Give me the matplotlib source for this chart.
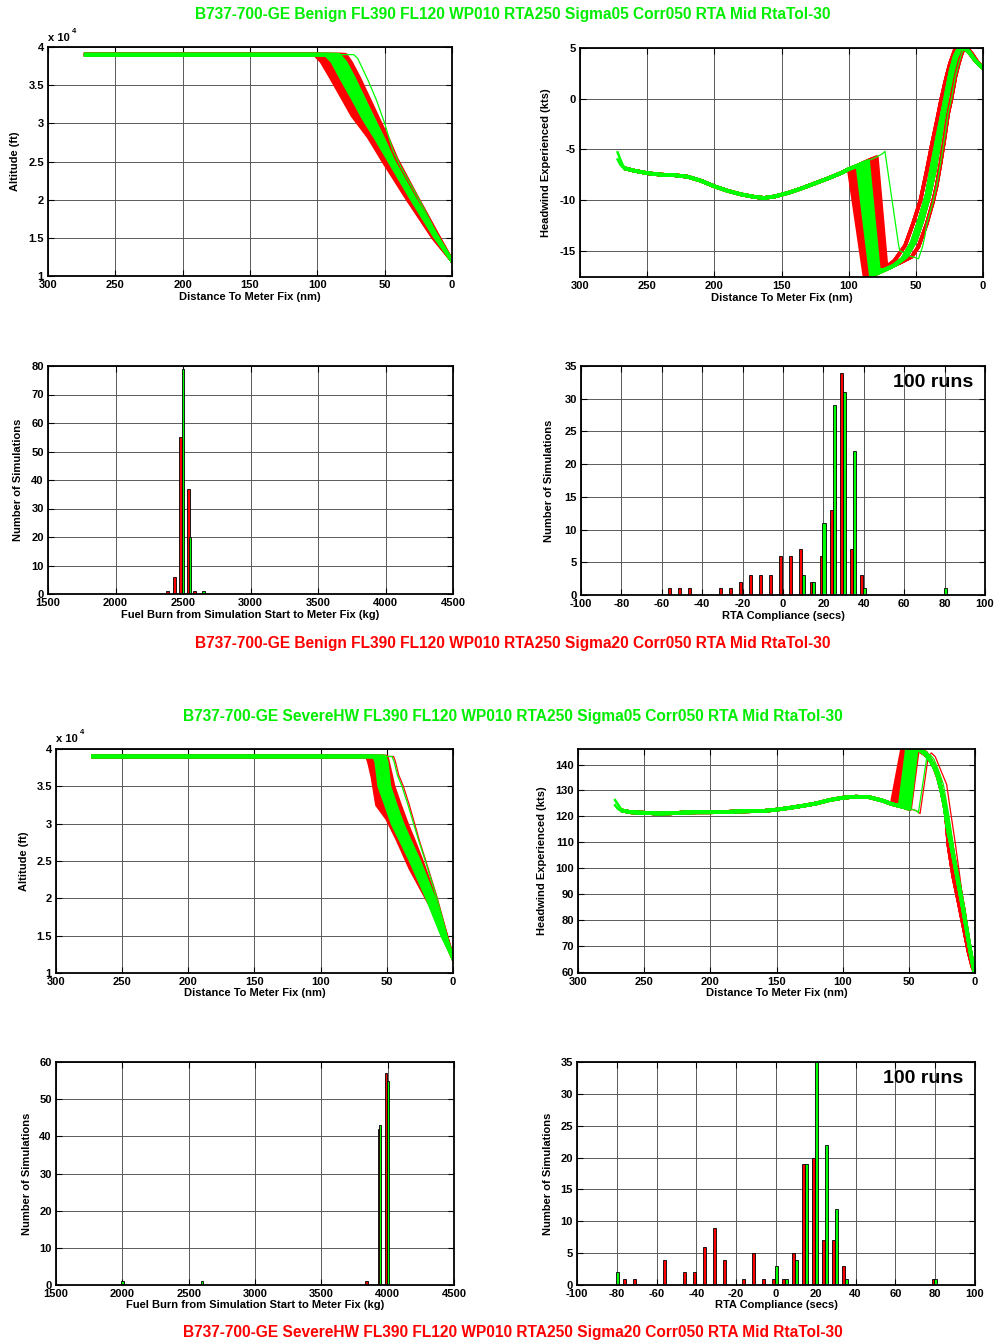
import numpy as np
import matplotlib.pyplot as plt
from matplotlib.ticker import FuncFormatter

plt.rcParams['font.family'] = ['Liberation Sans', 'DejaVu Sans']
plt.rcParams['font.weight'] = 'bold'
plt.rcParams['font.size'] = 8
plt.rcParams['axes.unicode_minus'] = False

RED = '#ff0000'
GRN = '#00ff00'
TXT_GRN = '#00ee00'

# ---------------- titles ----------------
titles = [
    ('B737-700-GE Benign FL390 FL120 WP010 RTA250 Sigma05 Corr050 RTA Mid RtaTol-30', TXT_GRN, 14),
    ('B737-700-GE Benign FL390 FL120 WP010 RTA250 Sigma20 Corr050 RTA Mid RtaTol-30', RED, 643),
    ('B737-700-GE SevereHW FL390 FL120 WP010 RTA250 Sigma05 Corr050 RTA Mid RtaTol-30', TXT_GRN, 717),
    ('B737-700-GE SevereHW FL390 FL120 WP010 RTA250 Sigma20 Corr050 RTA Mid RtaTol-30', RED, 1332),
]

# ---------------- altitude profiles (dist nm, alt ft) ----------------
cruise_start = 272
cruise_alt = 39000

alt_b_red = [
    [(102, 39000), (97, 38100), (90, 36000), (82, 33500), (74, 31000), (62, 28200), (51, 25000), (33, 20000), (14, 15000), (0, 12000)],
    [(100.5, 39000), (95.5, 38100), (88.5, 35900), (80.5, 33400), (72.5, 30900), (61, 28100), (50, 25000), (32.5, 20000), (14, 15000), (0, 12000)],
    [(99, 39000), (94, 38100), (87, 35800), (79, 33200), (71, 30700), (60, 28000), (49, 25000), (32, 20100), (14, 15100), (0, 12000)],
    [(97.5, 39000), (92.5, 38100), (85.5, 35800), (77.5, 33200), (69.5, 30700), (59, 28000), (48.5, 25000), (31.5, 20100), (13.5, 15100), (0, 12000)],
    [(96, 39000), (91, 38100), (84, 35800), (76, 33200), (68, 30700), (58, 28000), (48, 25000), (31, 20200), (13, 15200), (0, 12000)],
    [(92, 39000), (87, 38100), (80, 35800), (72, 33300), (64, 30700), (55, 28000), (46, 25100), (30, 20300), (13, 15300), (0, 12000)],
    [(88, 39000), (83, 38100), (77, 35900), (70, 33500), (62, 30900), (53, 28100), (44, 25000), (29, 20300), (13, 15400), (0, 12000)],
    [(84, 39000), (79, 38100), (73, 36000), (67, 33600), (60, 31000), (52, 28300), (43, 25000), (28, 20400), (12, 15400), (0, 12000)],
    [(82, 39000), (78, 38200), (72, 36500), (65, 34000), (58, 31500), (51, 29000), (43, 25800), (28, 20800), (12, 15600), (0, 12000)],
    [(80.5, 39000), (76.5, 38200), (70.5, 36300), (63, 33500), (55.5, 30700), (49, 28300), (42, 25500), (27, 20600), (11.5, 15600), (0, 12000)],
    [(79, 39000), (75, 38000), (69, 36000), (61, 33000), (53, 30000), (47, 27800), (41, 25300), (26.5, 20500), (11, 15500), (0, 12000)],
]
alt_b_grn = [
    [(94, 39000), (89, 38100), (82, 35800), (74, 33300), (66, 30700), (56.5, 28000), (46.5, 25000), (30.5, 20200), (13, 15200), (0, 12000)],
    [(91.5, 39000), (86.5, 38100), (79.5, 35800), (71.5, 33300), (63.5, 30800), (55, 28100), (45.5, 25000), (30, 20300), (13, 15300), (0, 12000)],
    [(89, 39000), (84, 38100), (78, 35900), (70, 33400), (62, 30800), (54, 28100), (45, 25100), (29, 20300), (13, 15300), (0, 12000)],
    [(86.5, 39000), (81.5, 38100), (75.5, 35900), (68.5, 33500), (61, 30900), (53, 28200), (44, 25100), (29, 20400), (12, 15400), (0, 12000)],
    [(84, 39000), (79, 38000), (73, 36000), (66.5, 33600), (59.5, 31000), (51.5, 28200), (43.5, 25100), (28.5, 20400), (12, 15400), (0, 12000)],
]
alt_b_grn_out = [(73, 39000), (70, 38500), (66, 37000), (62, 35500), (56, 33000), (50, 30000), (44, 26500), (38, 24300), (25, 20200), (12, 15800), (0, 12000)]

alt_s_red = [
    [(65, 39000), (63.5, 38200), (61, 36300), (57.5, 32500), (50, 30700), (42.4, 28000), (32.3, 24000), (17.2, 19100), (8, 15200), (0, 12000)],
    [(63.5, 39000), (62, 38200), (59.5, 36300), (56.3, 32800), (49.3, 30700), (41.7, 28000), (31.9, 24000), (17, 19100), (8, 15200), (0, 12000)],
    [(62, 39000), (60.5, 38200), (58, 36300), (55, 33000), (48.5, 30700), (41, 28000), (31.5, 24000), (16.8, 19100), (8, 15200), (0, 12000)],
    [(60.5, 39000), (59, 38200), (56.5, 36300), (53.5, 33100), (47.5, 30650), (40.2, 27900), (31, 24000), (16.6, 19150), (7.9, 15200), (0, 12000)],
    [(59, 39000), (57.5, 38200), (55, 36300), (52, 33200), (46.5, 30600), (39.5, 27800), (30.5, 24000), (16.4, 19200), (7.8, 15200), (0, 12000)],
    [(56, 39000), (54.5, 38200), (52, 36300), (49, 33300), (44.5, 30600), (38, 27800), (29.5, 24000), (16, 19300), (7.5, 15300), (0, 12000)],
    [(53, 39000), (51.5, 38200), (49, 36200), (46, 33300), (41, 30500), (35, 27500), (27, 23800), (15, 19400), (7, 15300), (0, 12000)],
    [(51.5, 39000), (50, 38100), (47.5, 36000), (45, 34500), (40.5, 32000), (36, 29800), (30, 27300), (24.5, 25000), (13.8, 20000), (5.2, 15000), (0, 12000)],
    [(50, 39000), (48.7, 38000), (46.5, 36300), (44.9, 35000), (40, 32500), (34.8, 30000), (29, 27500), (23.5, 25000), (13.4, 20000), (5, 15000), (0, 12000)],
]
alt_s_red_out = [(44.9, 39000), (43.5, 38300), (41, 36500), (37.5, 35000), (33, 32500), (29, 30000), (25, 27500), (20.5, 25000), (11.8, 20000), (4.2, 15000), (0, 12000)]
alt_s_grn = [
    [(59.5, 39000), (58, 38200), (55.8, 35000), (50.7, 32500), (45.8, 30000), (38.8, 27500), (32, 25000), (19.5, 20000), (8.2, 15000), (0, 12000)],
    [(57, 39000), (55.5, 38200), (53.5, 35000), (48.5, 32500), (43.5, 30000), (37, 27500), (30, 25000), (18, 20000), (7.5, 15000), (0, 12000)],
    [(54.5, 39000), (53, 38200), (51, 35000), (46.3, 32500), (41.3, 30000), (35.3, 27500), (28.3, 25000), (16.7, 20000), (7, 15000), (0, 12000)],
    [(52.5, 39000), (51, 38200), (49, 35000), (44.3, 32500), (39.2, 30000), (33, 27500), (26.5, 25000), (15, 20000), (6, 15000), (0, 12000)],
    [(51.5, 39000), (50, 38200), (48, 35000), (43.3, 32500), (38.2, 30000), (32, 27500), (25.5, 25000), (14.2, 20000), (5.6, 15000), (0, 12000)],
]
alt_s_grn_out = [(46.1, 39000), (44.5, 38300), (42, 36500), (38.6, 35000), (34, 32500), (29.8, 30000), (25.5, 27500), (20.9, 25000), (12.1, 20000), (4.5, 15000), (0, 12000)]

# ---------------- headwind, benign ----------------
hwb_start_a = [(272, -5.3), (270, -6.0), (268, -6.6), (266, -6.9)]
hwb_start_b = [(272, -6.0), (270, -6.5), (268, -6.8), (266, -6.9)]
hwb_cruise_d = [266, 260, 250, 240, 230, 220, 210, 200, 190, 180, 170, 163, 155, 145, 135, 125, 115, 105, 100, 95, 90, 85, 80, 75, 73]
hwb_cruise_v = [-6.9, -7.1, -7.35, -7.5, -7.55, -7.7, -8.1, -8.65, -9.1, -9.45, -9.7, -9.8, -9.65, -9.3, -8.85, -8.35, -7.85, -7.3, -6.95, -6.7, -6.4, -6.1, -5.8, -5.45, -5.2]
hwb_recovery = {
    'left': [(84, -17.5), (75, -16.9), (66, -16.0), (58, -14.5), (52, -12.3), (46.5, -10), (42, -7.2), (38, -4.5), (34, -2.0), (31, 0), (27.5, 2), (24.5, 3.5), (21, 4.8), (18, 5), (14, 5), (10, 4.5), (6, 3.8), (3, 3.4), (0, 3)],
    'mid': [(78, -17.2), (68, -16.6), (60, -15.8), (53, -14.2), (47, -11.8), (42, -9.5), (38, -6.6), (34, -3.8), (30, -1.2), (27, 0.8), (24, 2.8), (21, 4.2), (18, 5), (14, 5), (10, 4.5), (6, 3.8), (3, 3.4), (0, 3)],
    'mid2': [(74, -16.9), (65, -16.4), (57, -15.6), (50, -14.0), (45, -12.0), (40, -9.6), (36, -7.2), (33, -4.8), (29.5, -2), (26.5, 0.2), (23, 2.4), (20, 4), (17, 4.9), (14, 5), (10, 4.6), (6, 3.8), (3, 3.4), (0, 3)],
    'right': [(70, -16.6), (62, -16.2), (53, -15.6), (48, -14.6), (42, -12.4), (37.5, -10.3), (34.5, -8.6), (31.5, -6.3), (28.5, -3.8), (26, -1.5), (23.5, 0), (20.5, 2.2), (18, 3.5), (15.5, 4.6), (13.5, 5), (11, 4.9), (8, 4.4), (4, 3.6), (0, 3)],
}
# (top of descent, headwind there, bottom dist, bottom headwind, recovery branch)
hwb_red = [(100, -6.95, 88, -17.8, 'left'), (98.5, -6.85, 87, -17.8, 'left'), (97, -6.8, 86, -17.8, 'left'),
           (95.5, -6.72, 85, -17.7, 'left'), (94, -6.65, 84, -17.6, 'mid'), (91, -6.5, 82, -17.5, 'mid'),
           (88, -6.3, 80, -17.3, 'mid2'), (85, -6.1, 78, -17.0, 'mid2'), (83.5, -6.0, 76.5, -16.9, 'right'),
           (82, -5.95, 75, -16.7, 'right'), (80.5, -5.85, 73.5, -16.5, 'right'), (79, -5.75, 72, -16.3, 'right')]
hwb_grn = [(93.5, -6.62, 83.5, -17.5, 'mid'), (91.5, -6.52, 82, -17.4, 'mid'), (89.5, -6.38, 80.5, -17.2, 'mid'),
           (87.5, -6.27, 79, -17.1, 'mid2'), (85.5, -6.15, 77.5, -16.9, 'mid2')]
hwb_grn_out = [(63, -14.3), (62, -15.0), (55, -15.5), (48, -15.8), (45, -14.6), (43, -13.4)]

# ---------------- headwind, severe ----------------
hws_start_a = [(272, 126.3), (270, 124.8), (268, 123.2), (266, 122.2)]
hws_start_b = [(272, 124.3), (270, 123.0), (268, 122.3), (266, 122.2)]
hws_cruise_d = [266, 260, 250, 240, 230, 220, 210, 200, 190, 180, 170, 160, 150, 140, 130, 120, 110, 100, 90, 80, 70, 63, 60, 57, 54, 51, 48, 45, 43]
hws_cruise_v = [122.2, 121.6, 121.4, 121.1, 121.2, 121.5, 121.6, 121.6, 121.7, 121.9, 122.0, 122.1, 122.6, 123.3, 124.1, 125.0, 126.3, 127.2, 127.6, 127.4, 126.1, 124.8, 124.4, 124.0, 123.6, 123.2, 122.8, 122.3, 121.8]
hws_fall = {
    'left': [(44, 146), (38, 144), (34, 142), (30, 138.5), (27, 134), (24, 127), (22, 121), (20.1, 109), (16.5, 97), (12, 86), (8.5, 77), (5, 68), (2, 62), (0, 59.6)],
    'mid': [(43, 146), (37.5, 144), (33, 141), (29, 137), (26, 131.5), (23, 124), (20.5, 115), (18, 109), (14, 98), (10, 87), (6.5, 77), (3.5, 68), (1.3, 62), (0, 59.6)],
    'right': [(42, 146), (37, 144.5), (32, 140.5), (28, 135), (25, 129), (21, 119), (18, 110), (15.9, 104), (12, 94), (8.5, 84), (5.5, 74), (3, 66), (1, 61), (0, 59.6)],
}
# (top of descent, headwind there, peak dist, peak headwind, fall branch)
hws_red = [(63, 124.9, 55, 146.5, 'left'), (62, 124.7, 54.2, 146.5, 'left'), (61, 124.6, 53.5, 146.5, 'left'),
           (60, 124.4, 52.7, 146.5, 'left'), (59, 124.2, 52, 146.5, 'left'), (57, 124.0, 50, 146.5, 'mid'),
           (55, 123.7, 48, 146.5, 'mid'), (53, 123.4, 46.5, 146.5, 'mid'), (51, 123.0, 44.5, 146.5, 'right'),
           (50, 122.9, 43.8, 146.3, 'right'), (49, 122.7, 43, 146.2, 'right')]
hws_grn = [(57, 124.0, 51.5, 146, 'mid'), (55.5, 123.8, 50, 146, 'mid'), (54, 123.6, 48.5, 146, 'mid'),
           (52.5, 123.3, 47, 146, 'mid'), (51, 123.0, 45.5, 146, 'mid'), (49.5, 122.8, 44, 146, 'right')]
hws_grn_out = [(42.8, 121.3), (36.5, 142.6), (34, 143.9), (31, 142), (27, 137), (23.9, 132.3), (20, 121), (16.4, 109), (12.5, 95), (8.8, 80.8), (4.5, 68), (1.3, 60.2), (0, 59.6)]
hws_red_out = [(41.5, 121.1), (35.5, 142.5), (33, 144.5), (30, 143), (26, 138), (21.4, 132.3), (18.5, 122), (15, 110), (11.5, 97), (8, 83), (4.5, 70), (1.5, 61), (0, 59.6)]

# ---------------- histograms ----------------
fuel_b_red_x = [2387, 2437, 2481, 2540, 2585]
fuel_b_red_n = [1, 6, 55, 37, 1]
fuel_b_grn_x = [2500, 2552, 2650]
fuel_b_grn_n = [79, 20, 1]

fuel_s_red_x = [3840, 3932, 3987]
fuel_s_red_n = [1, 42, 57]
fuel_s_grn_x = [2002, 2603, 3945, 4000]
fuel_s_grn_n = [1, 1, 43, 55]

rta_b_red_x = [-55, -50, -45, -30, -25, -20, -15, -10, -5, 0, 5, 10, 15, 20, 25, 30, 35, 40]
rta_b_red_n = [1, 1, 1, 1, 1, 2, 3, 3, 3, 6, 6, 7, 2, 6, 13, 34, 7, 3]
rta_b_grn_x = [10, 15, 20, 25, 30, 35, 40, 80]
rta_b_grn_n = [3, 2, 11, 29, 31, 22, 1, 1]

rta_s_red_x = [-75, -70, -55, -45, -40, -35, -30, -25, -15, -10, -5, 0, 5, 10, 15, 20, 25, 30, 35, 80]
rta_s_red_n = [1, 1, 4, 2, 2, 6, 9, 4, 1, 5, 1, 1, 1, 5, 19, 20, 7, 7, 3, 1]
rta_s_grn_x = [-80, 0, 5, 10, 15, 20, 25, 30, 35, 80]
rta_s_grn_n = [2, 3, 1, 4, 19, 35, 22, 12, 1, 1]

# ---------------- figure ----------------
fig = plt.figure(figsize=(9.94, 13.43), dpi=100)
W, H = 994, 1343
BAND_LW = 2.6


def add_ax(l, t, r, b):
    return fig.add_axes([l / W, 1 - b / H, (r - l) / W, (b - t) / H])


def style(ax, xlim, ylim, xticks, yticks, xlabel, ylabel, ylab_x):
    ax.set_xlim(xlim)
    ax.set_ylim(ylim)
    ax.set_xticks(xticks)
    ax.set_yticks(yticks)
    ax.set_axisbelow(True)
    ax.grid(True, color='#5a5a5a', lw=0.7)
    ax.tick_params(direction='in', top=True, right=True, length=4, width=0.8,
                   labelsize=8, pad=3)
    for s in ax.spines.values():
        s.set_linewidth(1.3)
    ax.set_xlabel(xlabel, fontsize=8, fontweight='bold')
    ax.set_ylabel(ylabel, fontsize=8, fontweight='bold')
    ax.xaxis.set_label_coords(0.5, -0.068)
    ax.yaxis.set_label_coords(ylab_x, 0.5)


def plot_alt(ax, trajs, color, lw):
    for t in trajs:
        ax.plot([cruise_start] + [p[0] for p in t], [cruise_alt] + [p[1] for p in t],
                color=color, lw=lw, solid_joinstyle='round')


def hw_path(cd, cv, tod, vtod, mid_pts, tail):
    # cruise part up to top of descent, then the descent and the shared tail
    dd = [d for d in cd if d > tod]
    vv = [v for d, v in zip(cd, cv) if d > tod]
    last = mid_pts[-1][0]
    pts = [(tod, vtod)] + mid_pts + [p for p in tail if p[0] < last]
    return dd + [p[0] for p in pts], vv + [p[1] for p in pts]


def x10(ax, ybase):
    ax.text(0.0, ybase, 'x 10', transform=ax.transAxes, fontsize=8, fontweight='bold',
            ha='left', va='center')
    ax.text(0.059, ybase + 0.028, '4', transform=ax.transAxes, fontsize=5.5,
            fontweight='bold', ha='left', va='center')


alt_fmt = FuncFormatter(lambda v, p: f'{v / 1e4:g}')
dist_ticks = [300, 250, 200, 150, 100, 50, 0]
alt_ticks = [10000, 15000, 20000, 25000, 30000, 35000, 40000]

# panel 1: benign altitude
ax = add_ax(48, 47, 452, 276)
plot_alt(ax, alt_b_red, RED, BAND_LW)
plot_alt(ax, alt_b_grn, GRN, BAND_LW)
plot_alt(ax, [alt_b_grn_out], GRN, 0.9)
style(ax, (300, 0), (10000, 40000), dist_ticks, alt_ticks,
      'Distance To Meter Fix (nm)', 'Altitude (ft)', -0.069)
ax.yaxis.set_major_formatter(alt_fmt)
x10(ax, 1.038)

# panel 5: severe altitude
ax = add_ax(56, 749, 453, 973)
plot_alt(ax, alt_s_red, RED, BAND_LW)
plot_alt(ax, [alt_s_red_out], RED, 0.9)
plot_alt(ax, alt_s_grn, GRN, BAND_LW)
plot_alt(ax, [alt_s_grn_out], GRN, 0.9)
style(ax, (300, 0), (10000, 40000), dist_ticks, alt_ticks,
      'Distance To Meter Fix (nm)', 'Altitude (ft)', -0.068)
ax.yaxis.set_major_formatter(alt_fmt)
x10(ax, 1.045)

# panel 2: benign headwind
ax = add_ax(580, 48, 983, 277)
for tod, vt, bd, bv, br in hwb_red:
    x, y = hw_path(hwb_cruise_d, hwb_cruise_v, tod, vt, [(bd, bv)], hwb_recovery[br])
    ax.plot(x, y, color=RED, lw=BAND_LW, solid_joinstyle='round')
for tod, vt, bd, bv, br in hwb_grn:
    x, y = hw_path(hwb_cruise_d, hwb_cruise_v, tod, vt, [(bd, bv)], hwb_recovery[br])
    ax.plot(x, y, color=GRN, lw=BAND_LW, solid_joinstyle='round')
x, y = hw_path(hwb_cruise_d, hwb_cruise_v, 73, -5.2, hwb_grn_out, hwb_recovery['right'])
ax.plot(x, y, color=GRN, lw=0.9)
for st in (hwb_start_a, hwb_start_b):
    ax.plot([p[0] for p in st], [p[1] for p in st], color=GRN, lw=1.8)
style(ax, (300, 0), (-17.6, 5), dist_ticks, [-15, -10, -5, 0, 5],
      'Distance To Meter Fix (nm)', 'Headwind Experienced (kts)', -0.072)

# panel 6: severe headwind
ax = add_ax(578, 749, 975, 973)
for tod, vt, pd_, pv, br in hws_red:
    x, y = hw_path(hws_cruise_d, hws_cruise_v, tod, vt, [(pd_, pv)], hws_fall[br])
    ax.plot(x, y, color=RED, lw=BAND_LW, solid_joinstyle='round')
x = [d for d in hws_cruise_d if d > 41.5] + [p[0] for p in hws_red_out]
y = [v for d, v in zip(hws_cruise_d, hws_cruise_v) if d > 41.5] + [p[1] for p in hws_red_out]
ax.plot(x, y, color=RED, lw=0.9)
for tod, vt, pd_, pv, br in hws_grn:
    x, y = hw_path(hws_cruise_d, hws_cruise_v, tod, vt, [(pd_, pv)], hws_fall[br])
    ax.plot(x, y, color=GRN, lw=BAND_LW, solid_joinstyle='round')
x = [d for d in hws_cruise_d if d > 42.8] + [p[0] for p in hws_grn_out]
y = [v for d, v in zip(hws_cruise_d, hws_cruise_v) if d > 42.8] + [p[1] for p in hws_grn_out]
ax.plot(x, y, color=GRN, lw=0.9)
for st in (hws_start_a, hws_start_b):
    ax.plot([p[0] for p in st], [p[1] for p in st], color=GRN, lw=1.8)
style(ax, (300, 0), (59.6, 146), dist_ticks, list(range(60, 141, 10)),
      'Distance To Meter Fix (nm)', 'Headwind Experienced (kts)', -0.078)

# panel 3: benign fuel
fuel_ticks = list(range(1500, 4501, 500))
ax = add_ax(48, 366, 453, 594)
ax.bar(fuel_b_red_x, fuel_b_red_n, width=20, color=RED, edgecolor='k', lw=0.6)
ax.bar(fuel_b_grn_x, fuel_b_grn_n, width=20, color=GRN, edgecolor='k', lw=0.6)
style(ax, (1500, 4500), (0, 80), fuel_ticks, list(range(0, 81, 10)),
      'Fuel Burn from Simulation Start to Meter Fix (kg)', 'Number of Simulations', -0.062)

# panel 7: severe fuel
ax = add_ax(56, 1062, 454, 1285)
ax.bar(fuel_s_red_x, fuel_s_red_n, width=17, color=RED, edgecolor='k', lw=0.6)
ax.bar(fuel_s_grn_x, fuel_s_grn_n, width=17, color=GRN, edgecolor='k', lw=0.6)
style(ax, (1500, 4500), (0, 60), fuel_ticks, list(range(0, 61, 10)),
      'Fuel Burn from Simulation Start to Meter Fix (kg)', 'Number of Simulations', -0.060)

# panels 4 and 8: RTA compliance
rta_ticks = list(range(-100, 101, 20))
for box, rx, rn, gx, gn, ylx in [
        ((581, 366, 985, 595), rta_b_red_x, rta_b_red_n, rta_b_grn_x, rta_b_grn_n, -0.067),
        ((577, 1062, 975, 1285), rta_s_red_x, rta_s_red_n, rta_s_grn_x, rta_s_grn_n, -0.060)]:
    ax = add_ax(*box)
    ax.bar(np.array(rx) - 1.1, rn, width=1.5, color=RED, edgecolor='k', lw=0.6)
    ax.bar(np.array(gx) + 0.3, gn, width=1.5, color=GRN, edgecolor='k', lw=0.6)
    style(ax, (-100, 100), (0, 35), rta_ticks, list(range(0, 36, 5)),
          'RTA Compliance (secs)', 'Number of Simulations', ylx)
    ax.text(0.97, 0.927, '100 runs', transform=ax.transAxes, fontsize=14,
            fontweight='bold', ha='right', va='center')

for text, col, ypx in titles:
    fig.text(513 / W, 1 - ypx / H, text, color=col, fontsize=11.2, fontweight='bold',
             ha='center', va='center')

fig.savefig('out.png', dpi=100, facecolor='white')
